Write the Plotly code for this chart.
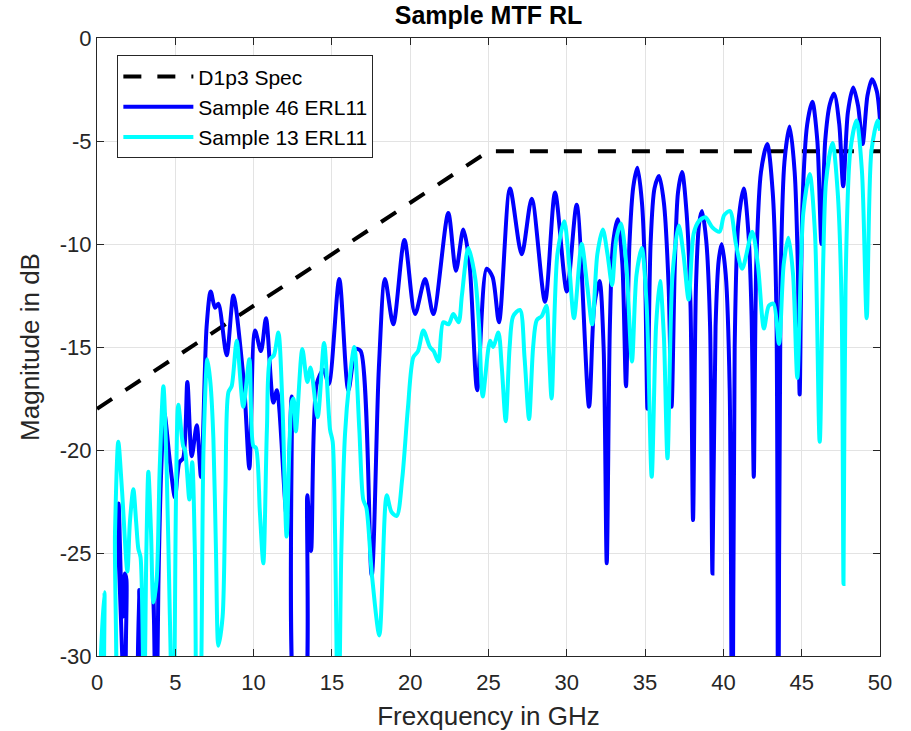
import plotly.graph_objects as go

# ---- data ----
spec_f = [0, 25, 50]
spec_db = [-18, -5.5, -5.5]

s46_f = [0.0, 1.25, 1.33, 1.38, 1.62, 1.79, 1.88, 2.05, 2.5, 2.7, 2.85, 3.45, 3.6, 3.75, 3.85, 3.92,
         4.1, 4.3, 4.66, 4.98, 5.26, 5.5, 5.77, 6.05, 6.37, 6.64, 7.0, 7.26, 7.54, 7.75, 8.28, 8.71,
         9.3, 9.45, 9.73, 10.09, 10.47, 10.79, 11.26, 11.49, 12.11, 12.43, 12.75, 13.15, 13.43, 13.67,
         14.03, 14.46, 14.8, 15.47, 16.05, 16.54, 16.84, 17.54, 18.0, 18.39, 18.92, 19.63, 20.31, 20.95,
         21.48, 22.43, 22.92, 23.39, 23.78, 24.28, 24.88, 25.26, 25.67, 26.37, 27.12, 27.76, 28.61,
         29.25, 30.0, 30.63, 31.42, 31.75, 32.09, 32.35, 32.55, 32.75, 32.95, 33.25, 33.55, 33.78, 34.0,
         34.25, 34.51, 34.8, 35.0, 35.15, 35.35, 35.6, 35.89, 36.2, 36.5, 36.69, 36.9, 37.1, 37.36,
         37.65, 37.9, 38.06, 38.25, 38.45, 38.63, 38.9, 39.15, 39.3, 39.5, 39.7, 39.89, 40.15, 40.4,
         40.57, 40.72, 40.95, 41.3, 41.6, 41.8, 41.94, 42.1, 42.4, 42.8, 43.15, 43.38, 43.5, 43.65,
         43.9, 44.23, 44.55, 44.75, 44.87, 45.05, 45.35, 45.68, 46.0, 46.26, 46.5, 46.8, 47.07, 47.4,
         47.65, 47.95, 48.29, 48.6, 48.89, 49.2, 49.49, 49.8, 50.0]
s46_db = [-40, -40, -23.5, -22.6, -28.1, -26.0, -26.3, -33, -33, -26.8, -33, -33, -27.0, -33, -31, -26.6,
          -21, -18.2, -20.6, -22.3, -20.6, -20.4, -16.7, -20.3, -18.8, -21.3, -14, -12.3, -13.1, -12.9,
          -15.4, -12.5, -16.1, -17.5, -20.9, -14.2, -15.2, -13.6, -17.7, -17.1, -23.2, -17.4, -33, -33,
          -22.2, -24.9, -16.8, -16.1, -16.8, -11.7, -17.1, -15.1, -15.2, -26.1, -16, -11.7, -13.9, -9.8,
          -13.4, -11.7, -13.4, -8.5, -11.3, -9.3, -10.9, -17.1, -11.2, -11.6, -13.8, -7.3, -10.5, -7.8,
          -12.8, -7.5, -12.3, -8.1, -17.9, -13.0, -11.8, -15, -25.5, -14, -10.0, -8.8, -11, -16.9, -10,
          -7.2, -6.3, -8, -11.5, -18.0, -10, -7.3, -6.7, -8, -12, -17.9, -11, -7.5, -6.5, -8.5, -13,
          -23.4, -12, -9, -8.4, -9.8, -14, -26.0, -14, -10.8, -10.0, -11.5, -17, -40, -15, -9.0, -7.3,
          -9.5, -13.5, -21.3, -11, -6.5, -5.15, -7.5, -13, -40, -12, -6.0, -4.3, -6.5, -11, -17.3, -8,
          -4.2, -3.1, -5.0, -10.0, -5, -3.2, -2.7, -4.2, -7.2, -3.6, -2.4, -3.3, -5.15, -2.8, -2.0, -2.6,
          -4.0]

s13_f = [0.0, 0.2, 0.47, 0.68, 1.0, 1.15, 1.36, 1.6, 1.94, 2.1, 2.32, 2.5, 2.64, 2.78, 3.0, 3.15, 3.28,
         3.45, 3.6, 3.81, 4.0, 4.24, 4.45, 4.65, 4.87, 5.05, 5.19, 5.5, 5.62, 5.9, 6.08, 6.25, 6.4, 6.6,
         6.8, 7.05, 7.25, 7.43, 7.6, 7.75, 8.02, 8.2, 8.39, 8.6, 8.92, 9.34, 9.73, 9.98, 10.15, 10.4,
         10.62, 10.85, 11.05, 11.3, 11.58, 11.85, 12.11, 12.43, 12.55, 12.7, 13.11, 13.43, 13.64, 14.09,
         14.5, 14.88, 15.05, 15.2, 15.41, 15.6, 15.84, 16.1, 16.43, 16.75, 17.0, 17.2, 17.56, 18.03,
         18.5, 18.8, 19.14, 19.49, 19.85, 20.2, 20.5, 20.84, 21.26, 21.5, 21.8, 22.11, 22.45, 22.75,
         23.09, 23.3, 23.71, 24.14, 24.4, 24.63, 25.1, 25.3, 25.63, 25.85, 26.1, 26.35, 26.58, 27.01,
         27.3, 27.59, 27.85, 28.08, 28.4, 28.7, 28.85, 29.03, 29.4, 29.84, 30.15, 30.46, 30.95, 31.3,
         31.62, 31.95, 32.3, 32.6, 32.89, 33.15, 33.46, 33.8, 34.16, 34.45, 34.79, 35.1, 35.42, 35.7,
         35.95, 36.2, 36.43, 36.75, 37.15, 37.45, 37.78, 38.1, 38.42, 38.84, 39.3, 39.75, 40.05, 40.42,
         40.8, 41.2, 41.84, 42.2, 42.59, 42.9, 43.2, 43.55, 43.85, 44.15, 44.45, 44.72, 45.1, 45.51,
         45.85, 46.15, 46.55, 46.97, 47.3, 47.55, 47.67, 47.8, 48.1, 48.5, 48.85, 49.15, 49.45, 49.85,
         50.0]
s13_db = [-40, -31, -26.9, -35, -35, -24, -19.6, -22, -25.9, -23.5, -21.9, -23.5, -24.8, -25.2, -33, -25,
          -21.05, -24, -27.4, -26.3, -21, -16.9, -21, -28, -35, -22, -17.8, -19.8, -20.0, -22.4, -20.6,
          -25, -35, -33, -20, -15.6, -16.8, -19.4, -25, -29.5, -28.1, -22, -17.2, -16.9, -14.7, -17.9,
          -15.6, -19.8, -19.9, -23, -25.5, -19, -15.6, -15.4, -14.3, -18, -24.2, -17.7, -17.5, -19.1,
          -15.1, -16.7, -16.0, -18.4, -14.8, -19.0, -19.6, -24, -35, -25, -19.2, -16.8, -15.0, -19,
          -22.4, -22.8, -26.1, -29.0, -22.2, -23.0, -23.2, -21.4, -18, -15.5, -15.2, -14.2, -15.0, -15.2,
          -15.7, -13.8, -13.9, -13.4, -13.8, -12.5, -10.2, -11.6, -14, -17.4, -14.7, -15.0, -14.3, -16,
          -18.6, -15, -13.5, -13.2, -15.5, -18.5, -15, -13.7, -13.5, -13.0, -15, -17.5, -10.5, -8.9,
          -11, -13.6, -10.0, -12, -13.9, -10.5, -9.3, -10.5, -12.0, -9.8, -9.0, -11, -15.7, -11.5, -10.2,
          -13, -21.3, -14, -11.8, -14.5, -20.4, -11.5, -9.1, -10.5, -12.7, -9.5, -8.9, -8.7, -9.2, -9.4,
          -8.6, -8.4, -10, -11.2, -9.4, -11, -14.1, -13.0, -12.9, -14.85, -11, -9.7, -11.5, -16.5, -8.5,
          -6.6, -9.5, -19.6, -7, -5.1, -7.5, -13, -26.5, -12, -5.5, -4.0, -6.5, -13.6, -5.5, -4.0, -4.5]

x_ticks = [0, 5, 10, 15, 20, 25, 30, 35, 40, 45, 50]
x_tick_labels = ["0", "5", "10", "15", "20", "25", "30", "35", "40", "45", "50"]
y_ticks = [-30, -25, -20, -15, -10, -5, 0]
y_tick_labels = ["-30", "-25", "-20", "-15", "-10", "-5", "0"]

FONT = "Liberation Sans, Arial, sans-serif"
AX = "#262626"

fig = go.Figure()
fig.add_trace(go.Scatter(x=spec_f, y=spec_db, mode="lines", name="D1p3 Spec",
                         line=dict(color="black", width=4, dash="18px,16px")))
fig.add_trace(go.Scatter(x=s46_f, y=s46_db, mode="lines", name="Sample 46 ERL11",
                         line=dict(color="#0000FF", width=4, shape="spline", smoothing=0.8)))
fig.add_trace(go.Scatter(x=s13_f, y=s13_db, mode="lines", name="Sample 13 ERL11",
                         line=dict(color="#00FFFF", width=4, shape="spline", smoothing=0.8)))

axis_common = dict(showline=True, linecolor=AX, linewidth=1, mirror="ticks",
                   ticks="inside", ticklen=7, tickcolor=AX, automargin=False,
                   showgrid=True, gridcolor="#E3E3E3", gridwidth=1, zeroline=False,
                   tickfont=dict(family=FONT, size=22, color=AX))

fig.update_xaxes(range=[0, 50], tickvals=x_ticks, ticktext=x_tick_labels, ticklabelstandoff=7,
                 title=dict(text="Frexquency in GHz", font=dict(family=FONT, size=26, color=AX),
                            standoff=12),
                 **axis_common)
fig.update_yaxes(range=[-30, 0], tickvals=y_ticks, ticktext=y_tick_labels,
                 title=dict(text="Magnitude in dB", font=dict(family=FONT, size=26, color=AX),
                            standoff=12),
                 **axis_common)

fig.update_layout(
    width=911, height=731,
    margin=dict(l=97, r=31, t=38, b=75),
    paper_bgcolor="white", plot_bgcolor="white",
    title=dict(text="<b>Sample MTF RL</b>", x=(97 + 880) / 2 / 911, xanchor="center",
               y=1 - 15 / 731, yanchor="middle",
               font=dict(family=FONT, size=25, color="black")),
    legend=dict(x=0.026, y=0.972, xanchor="left", yanchor="top",
                bgcolor="white", bordercolor=AX, borderwidth=1,
                font=dict(family=FONT, size=21, color="black"),
                itemwidth=70, tracegroupgap=0),
    showlegend=True,
)

fig.write_html("out.html", config={"displayModeBar": False},
               post_script="document.body.style.margin='0';")
